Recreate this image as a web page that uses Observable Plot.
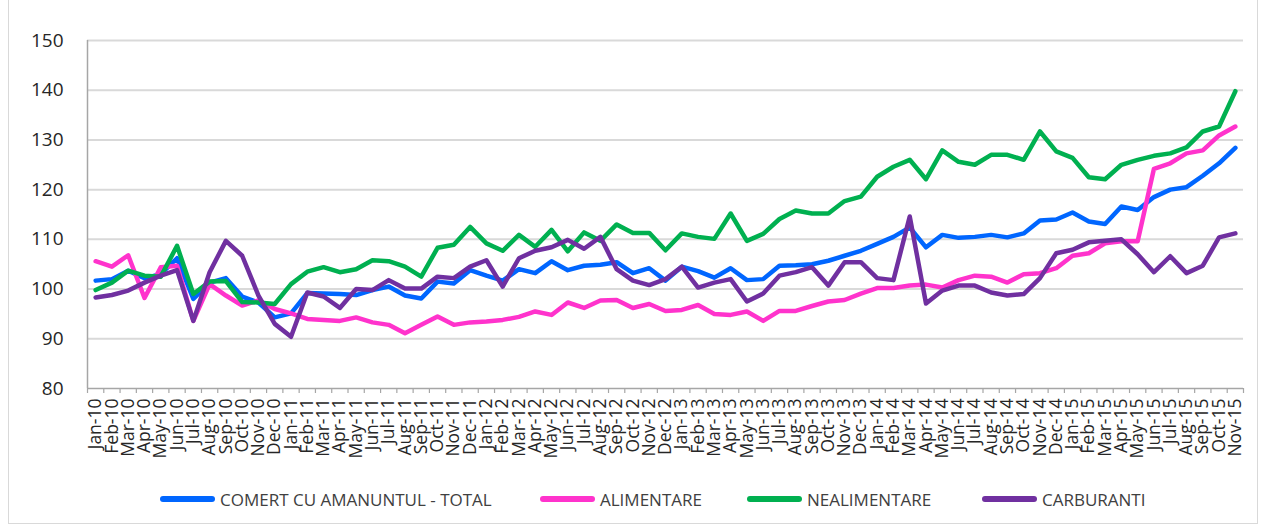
<!DOCTYPE html>
<html><head><meta charset="utf-8">
<script src="https://cdn.jsdelivr.net/npm/d3@7"></script>
<script src="https://cdn.jsdelivr.net/npm/@observablehq/plot@0.6"></script>
<style>
body{margin:0;background:#fff;font-family:"Open Sans","Liberation Sans",Arial,sans-serif;}
#wrap{position:relative;width:1263px;height:528px;overflow:hidden;}
#frame{position:absolute;left:8px;top:-2px;width:1250px;height:526px;border:1px solid #d9d9d9;box-sizing:border-box;}
#chart{position:absolute;left:0;top:0;}
#legend{position:absolute;top:487px;left:0;width:100%;height:24px;font-size:17px;color:#404040;}
.item{position:absolute;top:0;height:24px;display:flex;align-items:center;white-space:nowrap;}
.sw{width:55px;height:6px;border-radius:3px;margin-right:5px;}
</style></head>
<body><div id="wrap"><div id="frame"></div><div id="chart"></div><div id="legend"></div></div>
<script>
const months = ["Jan-10","Feb-10","Mar-10","Apr-10","May-10","Jun-10","Jul-10","Aug-10","Sep-10","Oct-10","Nov-10","Dec-10",
"Jan-11","Feb-11","Mar-11","Apr-11","May-11","Jun-11","Jul-11","Aug-11","Sep-11","Oct-11","Nov-11","Dec-11",
"Jan-12","Feb-12","Mar-12","Apr-12","May-12","Jun-12","Jul-12","Aug-12","Sep-12","Oct-12","Nov-12","Dec-12",
"Jan-13","Feb-13","Mar-13","Apr-13","May-13","Jun-13","Jul-13","Aug-13","Sep-13","Oct-13","Nov-13","Dec-13",
"Jan-14","Feb-14","Mar-14","Apr-14","May-14","Jun-14","Jul-14","Aug-14","Sep-14","Oct-14","Nov-14","Dec-14",
"Jan-15","Feb-15","Mar-15","Apr-15","May-15","Jun-15","Jul-15","Aug-15","Sep-15","Oct-15","Nov-15"];

const seriesNames = ["COMERT CU AMANUNTUL - TOTAL","ALIMENTARE","NEALIMENTARE","CARBURANTI"];
const seriesColors = ["#0066FF","#FF33CC","#00B050","#7030A0"];

const total = [101.7,102.0,103.7,102.2,103.0,106.2,98.0,101.3,102.2,98.5,97.3,94.3,95.1,99.2,99.1,99.0,98.8,99.8,
100.5,98.7,98.1,101.5,101.1,103.8,102.7,101.7,104.0,103.2,105.6,103.8,104.7,104.9,105.4,103.2,104.2,101.7,
104.5,103.6,102.3,104.2,101.8,102.0,104.7,104.8,105.0,105.7,106.7,107.7,109.1,110.5,112.4,108.4,110.9,110.3,
110.5,110.9,110.4,111.2,113.8,114.0,115.4,113.6,113.1,116.6,115.9,118.5,120.0,120.5,122.8,125.3,128.4];

const alimentare = [105.6,104.5,106.8,98.2,104.4,104.7,93.6,101.0,98.7,96.7,97.7,96.0,95.1,94.0,93.8,93.6,94.3,93.3,
92.8,91.1,92.8,94.5,92.8,93.3,93.5,93.8,94.4,95.5,94.8,97.3,96.2,97.7,97.8,96.2,97.0,95.6,
95.8,96.8,95.0,94.8,95.5,93.6,95.6,95.6,96.6,97.5,97.8,99.1,100.2,100.2,100.7,100.9,100.3,101.8,
102.7,102.5,101.3,103.0,103.2,104.2,106.7,107.2,109.2,109.6,109.6,124.2,125.3,127.3,127.9,130.9,132.7];

const nealimentare = [99.8,101.3,103.7,102.7,102.5,108.7,99.0,101.5,101.6,97.4,97.3,97.0,101.0,103.5,104.4,103.4,104.0,105.8,
105.6,104.5,102.5,108.3,108.9,112.5,109.2,107.7,110.9,108.5,111.9,107.6,111.4,109.7,113.0,111.3,111.3,107.8,
111.2,110.5,110.1,115.2,109.7,111.1,114.1,115.8,115.2,115.2,117.7,118.6,122.6,124.6,126.0,122.1,127.9,125.6,
125.0,127.0,127.0,126.0,131.7,127.7,126.4,122.5,122.1,125.0,126.0,126.8,127.3,128.5,131.7,132.7,139.8];

const carburanti = [98.3,98.8,99.7,101.3,102.7,103.8,93.6,103.4,109.7,106.7,98.7,93.0,90.4,99.3,98.5,96.2,100.0,99.8,
101.8,100.1,100.1,102.5,102.2,104.5,105.8,100.5,106.2,107.7,108.4,109.9,108.1,110.5,104.0,101.7,100.8,102.0,
104.5,100.3,101.3,102.0,97.5,99.1,102.7,103.4,104.4,100.7,105.4,105.4,102.2,101.8,114.6,97.1,99.7,100.7,
100.7,99.3,98.7,99.0,102.2,107.2,107.9,109.4,109.7,110.0,107.0,103.4,106.6,103.2,104.7,110.4,111.2];

const yTicks = [80,90,100,110,120,130,140,150];

const seriesValues = [total, alimentare, nealimentare, carburanti];
const rows = seriesNames.flatMap((s, k) => seriesValues[k].map((v, i) => ({series: s, i, month: months[i], value: v})));

const n = months.length;
const plot = Plot.plot({
  width: 1263, height: 470,
  marginLeft: 87, marginRight: 20, marginTop: 40, marginBottom: 82,
  style: {fontFamily: '"Open Sans","Liberation Sans",Arial,sans-serif', fontSize: "17px", color: "#262626", background: "transparent"},
  x: {type: "linear", domain: [0, n], axis: null},
  y: {domain: [80, 150], axis: null},
  color: {domain: seriesNames, range: seriesColors},
  marks: [
    Plot.gridY(yTicks.filter(t => t > 80), {stroke: "#d9d9d9", strokeOpacity: 1, strokeWidth: 2}),
    Plot.axisY(yTicks, {tickSize: 0, tickPadding: 24, fontSize: 19, fill: "#262626", label: null}),
    Plot.ruleX([0], {stroke: "#a6a6a6", strokeWidth: 1.5}),
    Plot.ruleY([80], {stroke: "#a6a6a6", strokeWidth: 1.5}),
    Plot.axisX(d3.range(n + 1), {tickSize: 5, tickFormat: () => "", stroke: "#a6a6a6", strokeWidth: 1.2, label: null}),
    Plot.axisX(d3.range(n).map(i => i + 0.5), {tickSize: 0, tickPadding: 10, tickRotate: -90,
      tickFormat: d => months[Math.floor(d)], fontSize: 17.5, fill: "#262626", label: null}),
    Plot.line(rows, {x: d => d.i + 0.5, y: "value", z: "series", stroke: "series",
      strokeWidth: 4.5, strokeLinejoin: "round", strokeLinecap: "round"})
  ]
});
document.getElementById("chart").appendChild(plot);

const legendLeft = [160, 540, 747, 982];
const legend = document.getElementById("legend");
seriesNames.forEach((s, k) => {
  const it = document.createElement("div");
  it.className = "item";
  it.style.left = legendLeft[k] + "px";
  const sw = document.createElement("div");
  sw.className = "sw";
  sw.style.background = seriesColors[k];
  const tx = document.createElement("span");
  tx.textContent = s;
  it.appendChild(sw); it.appendChild(tx);
  legend.appendChild(it);
});
</script>
</body></html>
